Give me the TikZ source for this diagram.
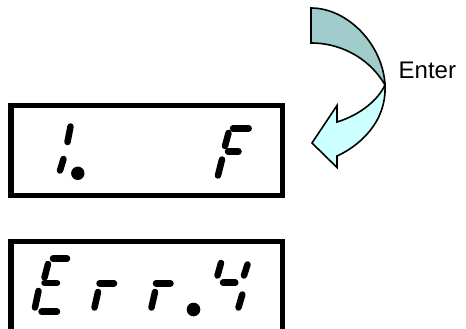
\documentclass[tikz,border=0pt]{standalone}
\usepackage{fontspec}
\setmainfont{Liberation Sans}
\definecolor{backc}{RGB}{160,205,204}
\definecolor{frontc}{RGB}{204,255,255}
\begin{document}
\begin{tikzpicture}[x=1pt,y=-1pt,
  seg/.style={line width=6.5pt,line cap=round},
  lcdbox/.style={draw,line width=5.5pt},
  arrowline/.style={draw,line width=1.6pt,line join=miter}]
\useasboundingbox (0,0) rectangle (466,329);
\clip (0,0) rectangle (466,329);
% display boxes
\draw[lcdbox] (11.2,105.5) rectangle (282.5,195.5);
\draw[lcdbox] (11.2,241.5) rectangle (282.5,345);
% curved arrow: back band
\draw[arrowline,fill=backc] (311,8) .. controls (348,8) and (383,45) .. (385,85)
  .. controls (372,62) and (345,43) .. (311,43) -- cycle;
% front band with head
\draw[arrowline,fill=frontc] (385,85) .. controls (387,125) and (355,148) .. (337,156)
  -- (337,167.5) -- (312,143) -- (337,105.5) -- (337,122)
  .. controls (360,115) and (378,100) .. (385,85) -- cycle;
\node[anchor=base west,inner sep=0pt] (enter) at (398.5,79) {\fontsize{24pt}{28pt}\selectfont Enter};
% top display: "1.   F"
\draw[seg] (70.5,126.5) -- (67.5,142);
\draw[seg] (63.5,159) -- (60,170.5);
\fill (77.8,173.3) circle (6.7);
\draw[seg] (233,128.3) -- (248.7,128.3);
\draw[seg] (228.5,133) -- (225,146);
\draw[seg] (228,151.5) -- (238.5,151.5);
\draw[seg] (222,159.5) -- (218,175.5);
% bottom display: "Err.4"
\draw[seg] (53,258.5) -- (67,258.5);
\draw[seg] (48,264) -- (44.5,277.5);
\draw[seg] (44.5,283) -- (57,283);
\draw[seg] (38.5,291) -- (35,307.5);
\draw[seg] (41.5,311.7) -- (57,311.7);
\draw[seg] (99.5,283.3) -- (114,283.3);
\draw[seg] (98,292) -- (94.5,307.5);
\draw[seg] (156,283.3) -- (170.5,283.3);
\draw[seg] (155,292) -- (151.5,307.5);
\fill (193.5,309.5) circle (6.8);
\draw[seg] (221,263) -- (217.5,275.5);
\draw[seg] (223,282.7) -- (235.3,282.7);
\draw[seg] (247.5,264.5) -- (244,275.5);
\draw[seg] (242.3,294.5) -- (238.5,307.5);
\end{tikzpicture}
\end{document}
